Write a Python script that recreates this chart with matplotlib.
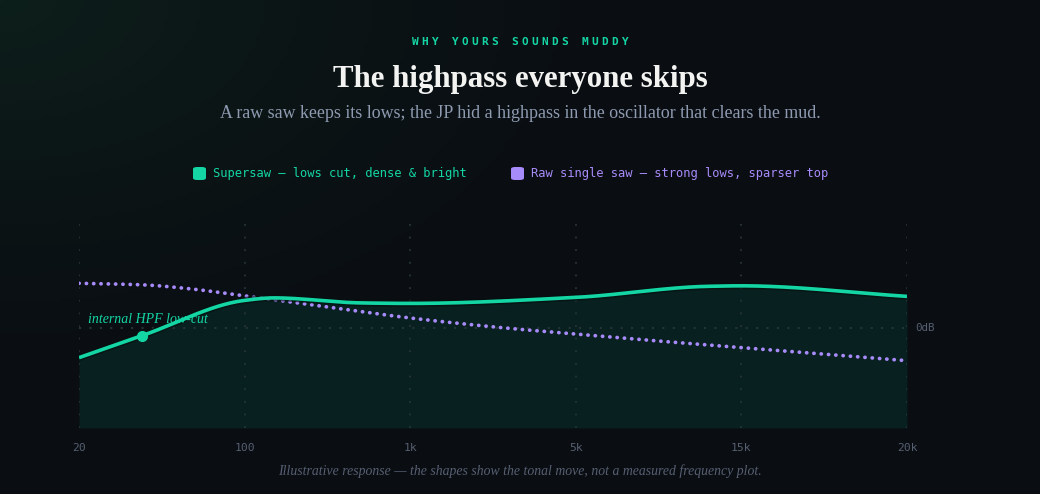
import numpy as np
import matplotlib.pyplot as plt
from matplotlib.patches import FancyBboxPatch
from matplotlib import patheffects as pe

# frequency axis: ticks are evenly spaced, log between ticks
tick_hz = [20, 100, 1000, 5000, 15000, 20000]
tick_labels = ['20', '100', '1k', '5k', '15k', '20k']

# supersaw response (dB)
super_hz = [20, 37, 100, 150, 500, 1000, 5000, 12000, 15000, 20000]
super_db = [-3.0, -0.8, 2.7, 2.95, 2.45, 2.4, 3.0, 4.1, 4.15, 3.1]

# raw single saw response (dB)
raw_hz = [20, 37, 59, 100, 220, 1000, 2400, 5000, 8700, 15000, 20000]
raw_db = [4.4, 4.25, 3.85, 3.15, 2.4, 0.95, 0.0, -0.65, -1.35, -2.0, -3.3]

hpf_hz = 37
hpf_db = -0.8

BG = '#0a0d12'
GREEN = '#14d6a4'
PURPLE = '#a78bfa'
GRID = '#26343a'
MUTED = '#566070'


def pos(hz):
    return np.interp(np.log10(hz), np.log10(tick_hz), np.arange(len(tick_hz)))


def monotone(x, y, n=400):
    # Fritsch-Carlson monotone cubic, like d3 curveMonotoneX
    x = np.asarray(x, float)
    y = np.asarray(y, float)
    h = np.diff(x)
    d = np.diff(y) / h
    m = np.zeros_like(y)
    m[0], m[-1] = d[0], d[-1]
    for i in range(1, len(y) - 1):
        if d[i - 1] * d[i] <= 0:
            m[i] = 0
        else:
            w1 = 2 * h[i] + h[i - 1]
            w2 = h[i] + 2 * h[i - 1]
            m[i] = (w1 + w2) / (w1 / d[i - 1] + w2 / d[i])
    xs = np.linspace(x[0], x[-1], n)
    k = np.clip(np.searchsorted(x, xs) - 1, 0, len(h) - 1)
    t = (xs - x[k]) / h[k]
    h00 = 2 * t**3 - 3 * t**2 + 1
    h10 = t**3 - 2 * t**2 + t
    h01 = -2 * t**3 + 3 * t**2
    h11 = t**3 - t**2
    ys = h00 * y[k] + h10 * h[k] * m[k] + h01 * y[k + 1] + h11 * h[k] * m[k + 1]
    return xs, ys


fig = plt.figure(figsize=(10.4, 4.94), dpi=100, facecolor=BG)

# soft green glow in the top-left corner
bg = fig.add_axes([0, 0, 1, 1], zorder=-10)
gx, gy = np.meshgrid(np.linspace(0, 1040, 260), np.linspace(0, 494, 124))
r = np.sqrt((gx / 750) ** 2 + (gy / 450) ** 2)
glow = np.clip(1 - r, 0, 1) ** 1.6
base = np.array([10, 13, 18]) / 255
tint = np.array([13, 31, 27]) / 255
img = base + (tint - base) * glow[..., None]
bg.imshow(img, extent=[0, 1, 0, 1], aspect='auto', origin='upper')
bg.axis('off')

ax = fig.add_axes([79 / 1040, 1 - 428 / 494, 828 / 1040, 211 / 494])
ax.set_facecolor('none')
ax.set_xlim(0, 5)
ax.set_ylim(-10, 11)

sx, sy = monotone(pos(super_hz), super_db)
rx, ry = monotone(pos(raw_hz), raw_db)

ax.fill_between(sx, sy, -10, color='#082020', lw=0, zorder=2)

# dotted grid over the fill: verticals at every tick and the 0dB line
for i in range(len(tick_hz)):
    ax.plot([i, i], [-10, 11], color=GRID, lw=1.3, ls=(0, (1, 6)), zorder=2.5)
ax.plot([0, 5], [0, 0], color=GRID, lw=1.5, ls=(0, (1, 4)), zorder=2.5)

ax.plot(sx, sy, color=GREEN, lw=2.6, solid_capstyle='butt', zorder=4,
        path_effects=[pe.Stroke(linewidth=5, foreground='#06100f', alpha=0.6), pe.Normal()])
ax.plot(rx, ry, color=PURPLE, lw=2.7, ls=(0, (0.05, 1.9)), dash_capstyle='round', zorder=3)
ax.plot([pos(hpf_hz)], [hpf_db], 'o', color=GREEN, ms=8, mec='none', zorder=5)
ax.annotate('internal HPF low-cut', (0.011, 0.512), xycoords='axes fraction', color=GREEN,
            fontsize=10, style='italic', family='Liberation Serif', ha='left', va='center',
            zorder=6)

ax.annotate('0dB', (1.0, 0), xycoords=ax.get_yaxis_transform(), xytext=(8, 0),
            textcoords='offset pixels', color=MUTED, fontsize=7.8,
            family='DejaVu Sans Mono', ha='left', va='center')

ax.set_xticks(range(len(tick_labels)))
ax.set_xticklabels(tick_labels, family='DejaVu Sans Mono', fontsize=8.2, color=MUTED)
ax.tick_params(axis='x', length=0, pad=11)
ax.set_yticks([])
for s in ax.spines.values():
    s.set_visible(False)

# header: letter-spaced kicker drawn char by char
kicker = 'WHY YOURS SOUNDS MUDDY'
pitch = 10.0
x_start = 520 - pitch * (len(kicker) - 1) / 2
for j, ch in enumerate(kicker):
    fig.text((x_start + j * pitch) / 1040, 1 - 42 / 494, ch, color=GREEN, fontsize=8,
             family='DejaVu Sans Mono', weight='bold', ha='center', va='center')

fig.text(0.5, 1 - 79 / 494, 'The highpass everyone skips', color='#f3f4f2',
         fontsize=22.2, family='Liberation Serif', weight='bold', ha='center', va='center')
fig.text(0.5, 1 - 113 / 494,
         'A raw saw keeps its lows; the JP hid a highpass in the oscillator that clears the mud.',
         color='#8d9ab0', fontsize=12.85, family='Liberation Serif', ha='center', va='center')

# legend
for x0, color, label in [(193, GREEN, 'Supersaw — lows cut, dense & bright'),
                         (511, PURPLE, 'Raw single saw — strong lows, sparser top')]:
    fig.patches.append(FancyBboxPatch((x0 / 1040, 1 - 180 / 494), 13 / 1040, 13 / 494,
                                      boxstyle='round,pad=0,rounding_size=0.004',
                                      transform=fig.transFigure, color=color, lw=0))
    fig.text((x0 + 20) / 1040, 1 - 173 / 494, label, color=color, fontsize=8.7,
             family='DejaVu Sans Mono', ha='left', va='center')

fig.text(0.5, 1 - 471 / 494,
         'Illustrative response — the shapes show the tonal move, not a measured frequency plot.',
         color='#566072', fontsize=9.9, style='italic', family='Liberation Serif',
         ha='center', va='center')

fig.savefig('out.png', dpi=100, facecolor=BG)
